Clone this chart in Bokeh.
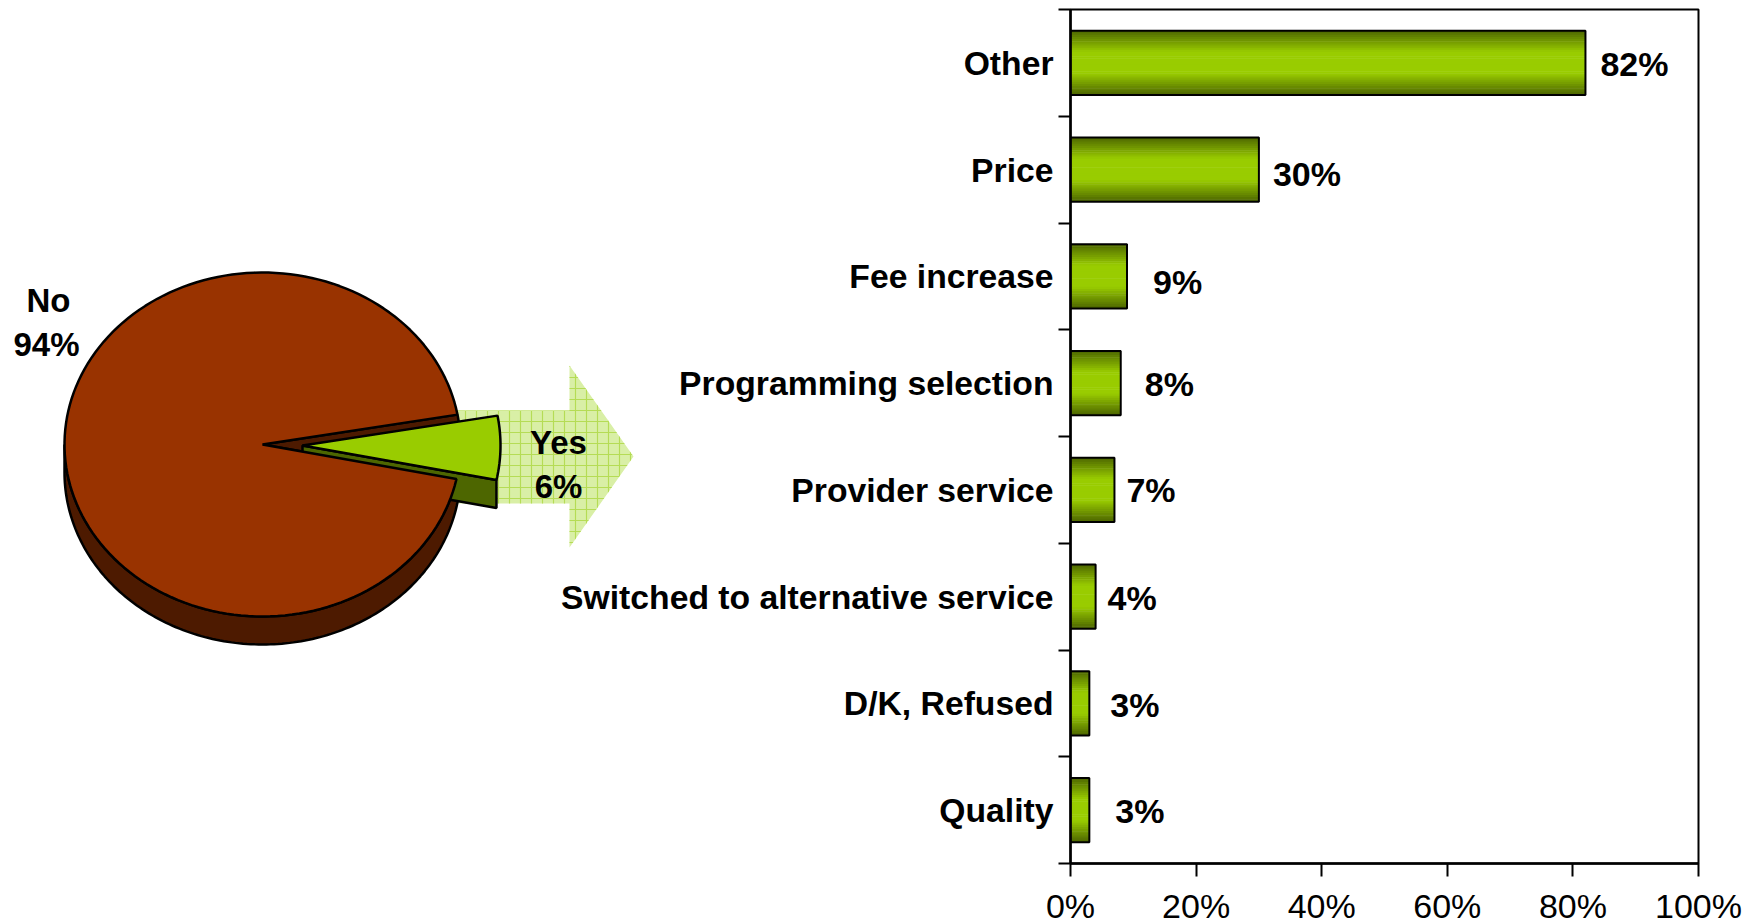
import math
from bokeh.core.properties import value
from bokeh.embed import file_html
from bokeh.layouts import row
from bokeh.models import FixedTicker, Range1d
from bokeh.plotting import figure
from bokeh.resources import INLINE

pie_labels = ["No", "Yes"]
pie_values = [94, 6]
categories = ["Other", "Price", "Fee increase", "Programming selection", "Provider service",
              "Switched to alternative service", "D/K, Refused", "Quality"]
bar_values = [82, 30, 9, 8, 7, 4, 3, 3]
x_ticks = [0, 20, 40, 60, 80, 100]

# label nudges (px): distance from bar end, and shift from the bar centre
label_dx = [15, 14, 26, 24, 12, 12, 21, 26]
label_dy = [1, 4, 6, 1, 0, 1, 2, 1]

FONT = "Liberation Sans"
DARK_GREEN, LIGHT_GREEN = (0x4D, 0x66, 0x00), (0x99, 0xCC, 0x00)

# ---------- pie panel (data units are page pixels) ----------
PIE_W, PIE_H = 630, 906
pie = figure(frame_width=PIE_W, frame_height=PIE_H, x_range=Range1d(8, 8 + PIE_W), y_range=Range1d(8 + PIE_H, 8),
             x_axis_location=None, y_axis_location=None,
             output_backend="svg", toolbar_location=None, min_border=0, outline_line_color=None,
             background_fill_color=None, border_fill_color=None)
pie.grid.visible = False

cx, cy, rx, ry, depth = 262, 443, 198, 172, 28
explode = 40
yes_sweep = pie_values[1] / sum(pie_values) * 360
yes_top = 10.0
yes_bottom = yes_top - yes_sweep


def arc(a0, a1, ox=0, oy=0, n=160):
    pts = [a0 + (a1 - a0) * i / n for i in range(n + 1)]
    return ([cx + ox + rx * math.cos(math.radians(a)) for a in pts],
            [cy + oy - ry * math.sin(math.radians(a)) for a in pts])


LW = 2.5
# arrow behind the exploded slice
pie.patch([450, 569, 569, 633, 569, 569, 450], [409, 409, 364, 455, 546, 502, 502],
          fill_color="#D9EFA6", line_color=None, hatch_pattern="cross", hatch_color="#B5DC55",
          hatch_scale=11, hatch_weight=1.2)
# pie rim (lower half, shifted down)
ax, ay = arc(180, 360)
bx, by = arc(360, 180, 0, depth)
pie.patch(ax + bx, ay + by, fill_color="#4D1A00", line_color="black", line_width=LW)
# open gap in the pie
gx, gy = arc(yes_top, yes_bottom)
pie.patch([cx] + gx, [cy] + gy, fill_color="#4D1A00", line_color="black", line_width=LW)
# side of the exploded slice
tipx, tipy = cx + explode, cy + 1
yx, yy = arc(yes_top, yes_bottom, explode, 1)
pie.patch([tipx, yx[-1], yx[-1], tipx], [tipy, yy[-1], yy[-1] + depth, tipy + depth],
          fill_color="#4D6600", line_color="black", line_width=LW)
# No face
nx, ny = arc(yes_bottom, yes_top - 360)
pie.patch([cx] + nx, [cy] + ny, fill_color="#993300", line_color="black", line_width=LW)
# Yes face
pie.patch([tipx] + yx, [tipy] + yy, fill_color="#99CC00", line_color="black", line_width=LW)

pie.text(x=[48, 558], y=[299, 441], text=[pie_labels[0], pie_labels[1]],
         text_font=value(FONT), text_font_style="bold", text_font_size="33px",
         text_color="black", text_align="center", text_baseline="middle")
pie.text(x=[46, 558], y=[343, 485], text=[f"{pie_values[0]}%", f"{pie_values[1]}%"],
         text_font=value(FONT), text_font_style="bold", text_font_size="33px",
         text_color="black", text_align="center", text_baseline="middle")

# ---------- bar panel ----------
n = len(categories)
bars = figure(frame_width=628, frame_height=854, x_range=Range1d(0, 100), y_range=Range1d(n, 0),
              output_backend="svg", toolbar_location=None,
              min_border_left=519, min_border_right=47, min_border_top=1, min_border_bottom=51,
              background_fill_color=None, border_fill_color=None,
              outline_line_color="black", outline_line_width=2,
              margin=(0, 0, 0, -87))
bars.grid.visible = False

BAR_H = 0.6
STEPS = 30
for i, v in enumerate(bar_values):
    for s in range(STEPS):
        t = (s + 0.5) / STEPS
        k = min(1.0, (1 - abs(2 * t - 1)) * 1.5)
        c = tuple(round(d + (l - d) * k) for d, l in zip(DARK_GREEN, LIGHT_GREEN))
        bars.hbar(y=[i + 0.5 - BAR_H / 2 + BAR_H * t], right=[v], left=[0],
                  height=BAR_H / STEPS * 1.25, fill_color="#%02X%02X%02X" % c, line_color=None)
bars.hbar(y=[i + 0.5 for i in range(n)], right=bar_values, left=0, height=BAR_H,
          fill_color=None, line_color="black", line_width=2)

for i, v in enumerate(bar_values):
    bars.text(x=[v], y=[i + 0.5], text=[f"{v}%"], x_offset=label_dx[i], y_offset=label_dy[i],
              text_font=value(FONT), text_font_style="bold", text_font_size="34px",
              text_color="black", text_align="left", text_baseline="middle")

xa = bars.xaxis[0]
xa.ticker = FixedTicker(ticks=x_ticks)
xa.major_label_overrides = {t: f"{t}%" for t in x_ticks}
xa.major_tick_in, xa.major_tick_out = 0, 13
xa.minor_tick_line_color = None
xa.axis_line_width = 2.5
xa.major_tick_line_width = 2
xa.major_tick_line_color = "black"
xa.axis_line_color = "black"
xa.major_label_text_font = FONT
xa.major_label_text_font_size = "34px"
xa.major_label_text_color = "black"
xa.major_label_standoff = 10

ya = bars.yaxis[0]
ya.ticker = FixedTicker(ticks=[i + 0.5 for i in range(n)], minor_ticks=list(range(n + 1)))
ya.major_label_overrides = {i + 0.5: c for i, c in enumerate(categories)}
ya.major_tick_in, ya.major_tick_out = 0, 0
ya.minor_tick_in, ya.minor_tick_out = 0, 12
ya.minor_tick_line_color = "black"
ya.minor_tick_line_width = 2
ya.axis_line_width = 2.5
ya.axis_line_color = "black"
ya.major_label_text_font = FONT
ya.major_label_text_font_style = "bold"
ya.major_label_text_font_size = "33.7px"
ya.major_label_text_color = "black"
ya.major_label_standoff = 5

layout = row(pie, bars, spacing=0, margin=(8, 0, 0, 8))
open("out.html", "w").write(file_html(layout, INLINE))
